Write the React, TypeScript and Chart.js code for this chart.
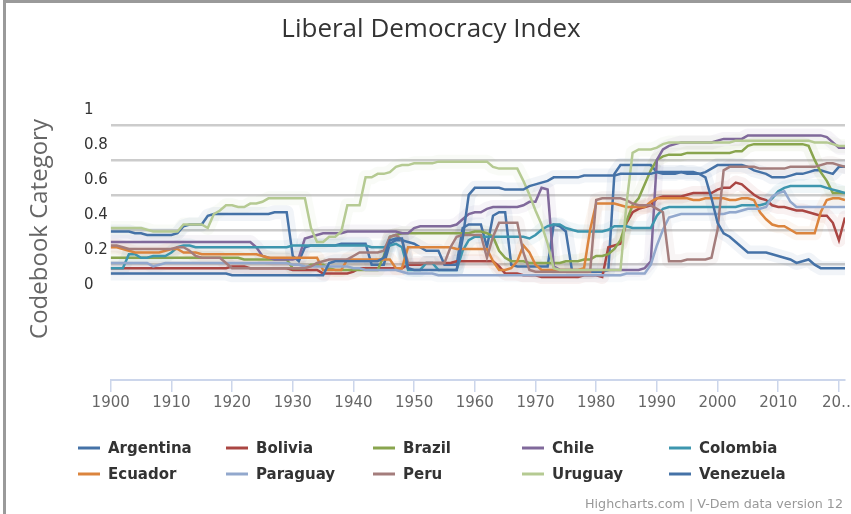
import React, { useEffect, useRef } from "react";
import { Chart, registerables } from "chart.js";
Chart.register(...registerables);

const years: number[] = [];
for (let y = 1900; y <= 2021; y++) years.push(y);

const countries = ["Argentina", "Bolivia", "Brazil", "Chile", "Colombia", "Ecuador", "Paraguay", "Peru", "Uruguay", "Venezuela"];
const colors = ["#4572A7", "#AA4643", "#89A54E", "#80699B", "#3D96AE", "#DB843D", "#92A8CD", "#A47D7C", "#B5CA92", "#4572A7"];

const argentina = [
  .29,.29,.29,.29,.28,.28,.27,.27,.27,.27,
  .27,.28,.32,.33,.33,.33,.38,.39,.39,.39,
  .39,.39,.39,.39,.39,.39,.39,.40,.40,.40,
  .15,.12,.20,.21,.21,.21,.21,.21,.22,.22,
  .22,.22,.22,.10,.10,.10,.22,.24,.24,.23,
  .22,.20,.18,.18,.18,.10,.10,.10,.31,.33,
  .33,.33,.20,.38,.40,.40,.10,.09,.09,.09,
  .09,.09,.09,.33,.32,.29,.07,.06,.06,.06,
  .06,.06,.07,.62,.67,.67,.67,.67,.67,.67,
  .63,.62,.62,.62,.63,.62,.62,.62,.63,.65,
  .67,.67,.67,.67,.67,.66,.64,.63,.62,.60,
  .60,.60,.61,.62,.62,.63,.64,.64,.63,.62,
  .66,.66];
const bolivia = [
  .08,.08,.08,.08,.08,.08,.08,.08,.08,.08,
  .08,.08,.08,.08,.08,.08,.08,.08,.08,.08,
  .09,.09,.09,.08,.08,.08,.08,.08,.08,.08,
  .07,.07,.07,.07,.07,.05,.05,.05,.05,.05,
  .06,.08,.08,.08,.08,.08,.08,.08,.08,.10,
  .10,.10,.11,.11,.11,.11,.11,.12,.12,.12,
  .12,.12,.12,.12,.09,.05,.05,.05,.04,.04,
  .04,.03,.03,.03,.03,.03,.03,.03,.04,.04,
  .04,.03,.20,.21,.22,.34,.40,.42,.43,.44,
  .48,.49,.49,.49,.49,.50,.51,.51,.51,.51,
  .53,.54,.54,.57,.56,.53,.50,.48,.47,.44,
  .43,.43,.42,.41,.41,.40,.39,.38,.38,.34,
  .24,.37];
const brazil = [
  .14,.14,.14,.14,.14,.14,.14,.14,.14,.14,
  .14,.14,.14,.14,.14,.14,.14,.14,.14,.14,
  .14,.14,.13,.13,.13,.13,.13,.13,.13,.13,
  .08,.08,.08,.10,.10,.10,.08,.07,.07,.07,
  .07,.07,.07,.07,.07,.15,.26,.27,.28,.28,
  .28,.28,.28,.28,.28,.28,.28,.28,.28,.28,
  .29,.29,.28,.26,.18,.14,.12,.12,.12,.11,
  .11,.11,.11,.11,.11,.12,.12,.12,.13,.13,
  .15,.15,.16,.19,.24,.35,.44,.48,.56,.64,
  .70,.72,.73,.73,.73,.74,.74,.74,.74,.74,
  .74,.74,.74,.75,.75,.78,.79,.79,.79,.79,
  .79,.79,.79,.79,.79,.78,.70,.63,.58,.51,
  .51,.51];
const chile = [
  .23,.23,.23,.23,.23,.23,.23,.23,.23,.23,
  .23,.23,.23,.23,.23,.23,.23,.23,.23,.23,
  .23,.23,.23,.23,.20,.15,.14,.13,.13,.13,
  .13,.14,.25,.26,.27,.28,.28,.28,.28,.29,
  .29,.29,.29,.29,.29,.29,.29,.29,.28,.28,
  .31,.32,.32,.32,.32,.32,.32,.33,.36,.39,
  .40,.40,.42,.43,.43,.43,.43,.43,.44,.46,
  .46,.54,.53,.09,.07,.07,.07,.07,.07,.07,
  .07,.07,.07,.07,.07,.07,.07,.07,.08,.12,
  .70,.76,.78,.79,.80,.80,.80,.80,.80,.80,
  .81,.82,.82,.82,.82,.84,.84,.84,.84,.84,
  .84,.84,.84,.84,.84,.84,.84,.84,.83,.80,
  .77,.77];
const colombia = [
  .08,.08,.08,.16,.16,.14,.14,.15,.15,.15,
  .17,.20,.21,.21,.20,.20,.20,.20,.20,.20,
  .20,.20,.20,.20,.20,.20,.20,.20,.20,.20,
  .21,.21,.21,.21,.21,.21,.21,.21,.21,.21,
  .21,.21,.21,.20,.20,.20,.21,.22,.20,.07,
  .07,.07,.11,.11,.07,.07,.07,.07,.18,.24,
  .26,.26,.26,.26,.26,.26,.26,.26,.26,.25,
  .27,.30,.32,.33,.33,.31,.30,.29,.29,.29,
  .29,.29,.30,.32,.32,.32,.31,.31,.31,.31,
  .38,.42,.43,.43,.43,.43,.43,.43,.43,.43,
  .43,.43,.43,.43,.44,.44,.44,.44,.45,.48,
  .52,.54,.55,.55,.55,.55,.55,.55,.54,.53,
  .52,.51];
const ecuador = [
  .20,.20,.19,.18,.17,.17,.17,.17,.17,.18,
  .19,.19,.17,.17,.17,.16,.16,.16,.16,.16,
  .16,.16,.16,.16,.16,.15,.14,.14,.14,.14,
  .14,.14,.14,.14,.14,.07,.07,.07,.07,.13,
  .13,.13,.13,.13,.13,.13,.13,.08,.08,.20,
  .20,.20,.20,.20,.20,.20,.20,.19,.19,.19,
  .19,.19,.19,.12,.07,.07,.08,.12,.21,.17,
  .10,.07,.07,.07,.07,.07,.07,.07,.08,.30,
  .45,.45,.45,.45,.44,.43,.43,.43,.43,.46,
  .48,.48,.48,.48,.48,.48,.47,.47,.48,.48,
  .48,.48,.47,.47,.48,.48,.47,.40,.36,.33,
  .32,.32,.30,.28,.28,.28,.28,.40,.47,.48,
  .48,.47];
const paraguay = [
  .11,.11,.11,.11,.11,.11,.11,.09,.10,.11,
  .11,.11,.11,.11,.11,.11,.11,.11,.11,.11,
  .11,.11,.11,.11,.11,.11,.11,.11,.11,.11,
  .10,.10,.09,.09,.09,.09,.09,.09,.09,.09,
  .08,.08,.07,.07,.07,.07,.07,.07,.06,.05,
  .05,.05,.05,.05,.04,.04,.04,.04,.04,.04,
  .04,.04,.04,.04,.04,.04,.04,.04,.04,.04,
  .04,.04,.04,.04,.04,.04,.04,.04,.04,.04,
  .04,.04,.04,.04,.04,.05,.05,.05,.05,.10,
  .21,.30,.37,.38,.39,.39,.39,.39,.39,.39,
  .39,.39,.40,.40,.41,.42,.42,.42,.43,.49,
  .51,.52,.46,.43,.43,.43,.43,.43,.43,.43,
  .43,.43];
const peru = [
  .21,.21,.20,.19,.19,.19,.19,.19,.19,.19,
  .19,.20,.20,.18,.15,.14,.14,.14,.14,.11,
  .08,.08,.08,.08,.08,.08,.08,.08,.08,.08,
  .08,.08,.08,.09,.11,.12,.13,.13,.13,.13,
  .15,.17,.17,.17,.17,.18,.26,.27,.24,.11,
  .11,.11,.11,.11,.11,.11,.20,.26,.27,.27,
  .27,.27,.14,.26,.34,.34,.34,.34,.17,.07,
  .06,.06,.06,.06,.06,.06,.06,.06,.06,.06,
  .47,.48,.48,.48,.48,.47,.45,.44,.44,.44,
  .42,.40,.12,.12,.12,.13,.13,.13,.13,.14,
  .30,.64,.66,.66,.66,.66,.66,.65,.65,.65,
  .65,.65,.66,.66,.66,.66,.66,.67,.68,.68,
  .67,.66];
const uruguay = [
  .31,.31,.31,.31,.31,.31,.30,.29,.29,.29,
  .29,.29,.33,.33,.33,.33,.31,.39,.41,.44,
  .44,.43,.43,.45,.45,.46,.48,.48,.48,.48,
  .48,.48,.48,.31,.23,.23,.26,.26,.29,.44,
  .44,.44,.60,.60,.62,.62,.63,.66,.67,.67,
  .68,.68,.68,.68,.69,.69,.69,.69,.69,.69,
  .69,.69,.69,.66,.65,.65,.65,.65,.58,.50,
  .41,.33,.22,.08,.07,.07,.07,.07,.07,.07,
  .07,.07,.07,.07,.07,.45,.74,.76,.76,.76,
  .77,.79,.80,.80,.80,.80,.80,.80,.80,.80,
  .80,.80,.80,.81,.81,.81,.81,.81,.81,.81,
  .81,.81,.81,.81,.81,.81,.80,.80,.80,.79,
  .78,.78];
const venezuela = [
  .05,.05,.05,.05,.05,.05,.05,.05,.05,.05,
  .05,.05,.05,.05,.05,.05,.05,.05,.05,.05,
  .04,.04,.04,.04,.04,.04,.04,.04,.04,.04,
  .04,.04,.04,.04,.04,.04,.11,.12,.12,.12,
  .12,.12,.12,.12,.12,.14,.24,.25,.25,.08,
  .07,.07,.07,.07,.07,.07,.07,.07,.25,.50,
  .54,.54,.54,.54,.54,.53,.53,.53,.53,.55,
  .56,.57,.58,.60,.60,.60,.60,.60,.61,.61,
  .61,.61,.61,.61,.62,.62,.62,.62,.62,.62,
  .63,.63,.63,.63,.63,.63,.63,.62,.60,.48,
  .34,.28,.26,.23,.20,.17,.17,.17,.17,.16,
  .15,.14,.13,.11,.12,.13,.10,.08,.08,.08,
  .08,.08];

const seriesValues = [argentina, bolivia, brazil, chile, colombia, ecuador, paraguay, peru, uruguay, venezuela];

const xTickValues = [1900, 1910, 1920, 1930, 1940, 1950, 1960, 1970, 1980, 1990, 2000, 2010, 2020];
// gridlines sit halfway between labelled values in the original
const yGridValues = [0.1, 0.3, 0.5, 0.7, 0.9, 1.1];

function hexToRgba(hex: string, a: number) {
  const n = parseInt(hex.slice(1), 16);
  return `rgba(${(n >> 16) & 255},${(n >> 8) & 255},${n & 255},${a})`;
}

const decorPlugin = {
  id: "decor",
  afterDraw(chart: any) {
    const ctx = chart.ctx as CanvasRenderingContext2D;
    ctx.save();
    // title
    ctx.fillStyle = "#333333";
    ctx.font = '26px "Open Sans"';
    ctx.textAlign = "center";
    ctx.textBaseline = "middle";
    ctx.fillText("Liberal Democracy Index", 431, 30);
    // y-axis title
    ctx.save();
    ctx.translate(40, 229);
    ctx.rotate(-Math.PI / 2);
    ctx.fillStyle = "#666666";
    ctx.font = '24px "Open Sans"';
    ctx.fillText("Codebook Category", 0, 0);
    ctx.restore();
    // legend
    const colX = [78, 226, 373, 522, 669];
    const rowY = [448, 474];
    ctx.textAlign = "left";
    ctx.font = 'bold 15px "DejaVu Sans"';
    countries.forEach((name, i) => {
      const x = colX[i % 5];
      const y = rowY[Math.floor(i / 5)];
      ctx.strokeStyle = colors[i];
      ctx.lineWidth = 3;
      ctx.beginPath();
      ctx.moveTo(x, y);
      ctx.lineTo(x + 22, y);
      ctx.stroke();
      ctx.fillStyle = "#333333";
      ctx.fillText(name, x + 30, y + 1);
    });
    // credits
    ctx.textAlign = "right";
    ctx.fillStyle = "#999999";
    ctx.font = '12.7px "DejaVu Sans"';
    ctx.fillText("Highcharts.com | V-Dem data version 12", 843, 505);
    // frame
    ctx.fillStyle = "#9a9a9a";
    ctx.fillRect(3, 0, 3, 514);
    ctx.fillRect(3, 0, 848, 3);
    ctx.restore();
  },
};

export default function App() {
  const ref = useRef<HTMLCanvasElement>(null);
  useEffect(() => {
    document.body.style.margin = "0";
    const bands = seriesValues.map((vals, i) => ({
      label: countries[i] + " band",
      data: vals.map((v, k) => ({ x: years[k], y: v })),
      borderColor: hexToRgba(colors[i], 0.075),
      borderWidth: 14,
      borderCapStyle: "round" as const,
      borderJoinStyle: "round" as const,
      pointRadius: 0,
      order: 100 - i,
    }));
    const lines = seriesValues.map((vals, i) => ({
      label: countries[i],
      data: vals.map((v, k) => ({ x: years[k], y: v })),
      borderColor: colors[i],
      backgroundColor: colors[i],
      borderWidth: 2.5,
      pointRadius: 0,
      order: 20 - i,
    }));
    const chart = new Chart(ref.current!, {
      type: "line",
      data: { datasets: [...bands, ...lines] as any },
      options: {
        responsive: false,
        animation: false,
        devicePixelRatio: 1,
        layout: { padding: { left: 84, right: 6, top: 90, bottom: 94 } },
        plugins: { legend: { display: false }, title: { display: false }, tooltip: { enabled: false } },
        elements: { line: { tension: 0 }, point: { radius: 0 } },
        scales: {
          x: {
            type: "linear",
            min: 1900,
            max: 2021,
            bounds: "data",
            afterBuildTicks: (axis: any) => {
              axis.ticks = xTickValues.map((v) => ({ value: v }));
            },
            afterFit: (axis: any) => {
              axis.height = 40;
              axis.paddingLeft = 0;
              axis.paddingRight = 0;
            },
            grid: { drawOnChartArea: false, drawTicks: true, tickLength: 12, color: "#ccd6eb", lineWidth: 1.5 },
            border: { display: true, color: "#ccd6eb", width: 2 },
            ticks: {
              autoSkip: false,
              maxRotation: 0,
              padding: 2,
              color: "#666666",
              font: { family: "DejaVu Sans", size: 15 },
              callback: (v: any) => (v === 2020 ? "20…" : String(v)),
            },
          },
          y: {
            type: "linear",
            min: -0.56,
            max: 1.1,
            bounds: "data",
            afterBuildTicks: (axis: any) => {
              axis.ticks = yGridValues.map((v) => ({ value: v }));
            },
            afterFit: (axis: any) => {
              axis.width = 26.7;
              axis.paddingTop = 0;
              axis.paddingBottom = 0;
            },
            grid: {
              drawTicks: false,
              lineWidth: 2.5,
              color: (c: any) => (c.tick && c.tick.value > 1.05 ? "rgba(0,0,0,0)" : "#cccccc"),
            },
            border: { display: false },
            ticks: {
              autoSkip: false,
              crossAlign: "far",
              labelOffset: 20,
              padding: 0,
              color: "#333333",
              font: { family: "DejaVu Sans", size: 15 },
              callback: (v: any) => String(Math.round((v - 0.1) * 10) / 10),
            },
          },
        },
      },
      plugins: [decorPlugin],
    });
    return () => chart.destroy();
  }, []);
  return (
    <div style={{ position: "relative", width: 851, height: 514, background: "#ffffff" }}>
      <canvas ref={ref} width={851} height={514} style={{ display: "block" }} />
    </div>
  );
}
